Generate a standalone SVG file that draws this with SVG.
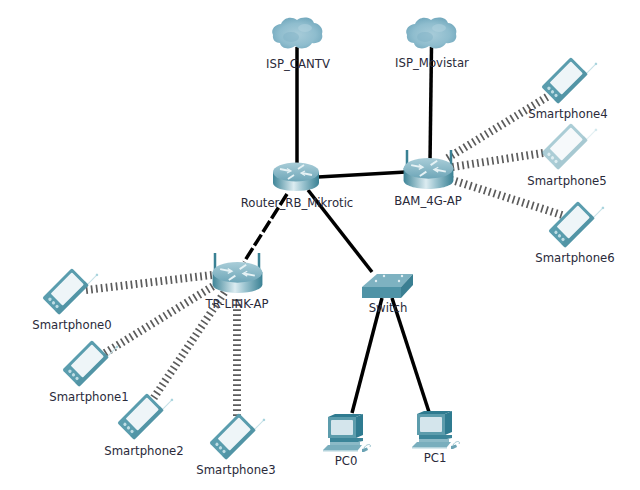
<svg xmlns="http://www.w3.org/2000/svg" width="640" height="490" viewBox="0 0 640 490">
<style>
text{font-family:"DejaVu Sans","Liberation Sans",sans-serif;font-size:11.7px;fill:#2a2a3a;text-anchor:middle}
.wire{stroke:#000;stroke-width:3.500;fill:none}
.air{stroke:#5c5c5c;stroke-width:8;stroke-dasharray:1.700 3.300;fill:none}
.ant{stroke:#3a8194;stroke-width:2.500}
</style>
<defs>
<radialGradient id="cg" cx=".5" cy=".55" r=".6"><stop offset="0" stop-color="#a8ccd9"/><stop offset=".6" stop-color="#8fbdce"/><stop offset="1" stop-color="#6fa6bb"/></radialGradient>
<linearGradient id="rg" x1="0" x2="1" y1="0" y2="0"><stop offset="0" stop-color="#3f8598"/><stop offset=".45" stop-color="#dcecf1"/><stop offset=".65" stop-color="#9cc4d0"/><stop offset="1" stop-color="#3a8194"/></linearGradient>
<linearGradient id="rt" x1="0" x2="0" y1="0" y2="1"><stop offset="0" stop-color="#a9cdd8"/><stop offset="1" stop-color="#6ea6b8"/></linearGradient>
<symbol id="cloud" overflow="visible" viewBox="-26 -16 52 32" width="52" height="32">
<path d="M-24 2C-27-4-21-9-16-9C-13-16-5-17 0-13C6-17 15-16 17-10C22-10 27-4 25 1C27 8 20 11 15 10C12 16 2 17-2 13C-7 17-16 16-17 10C-21 10-25 7-24 2Z" fill="url(#cg)"/>
<ellipse cx="-6" cy="4" rx="8" ry="5" fill="#7fb2c5" opacity=".5"/>
<ellipse cx="8" cy="-5" rx="7" ry="4" fill="#b4d3df" opacity=".5"/>
</symbol>
<symbol id="router" overflow="visible" viewBox="-24 -14 48 28" width="48" height="28">
<path d="M-23-4V7C-23 12-12 15 0 15S23 12 23 7V-4Z" fill="url(#rg)"/>
<ellipse cx="0" cy="-4" rx="23" ry="9.500" fill="url(#rt)"/>
<g stroke="#e6f2f5" stroke-width="1.800" fill="none">
<path d="M-16-7L-6-5"/><path d="M-9-7.500L-5-5L-9-3" stroke-width="1.200"/>
<path d="M16-1L6-3"/><path d="M9-.5L5-3L9-5" stroke-width="1.200"/>
<path d="M-8 3L-2-1"/><path d="M8-11L2-7"/>
</g>
</symbol>
<symbol id="phone" overflow="visible" viewBox="-35 -25 70 50" width="70" height="50">
<g transform="rotate(-45)">
<path d="M20 10.500H34" stroke="#c4e0e6" stroke-width="1"/>
<circle cx="34" cy="10.500" r="1.300" fill="#a8d4dd"/>
<rect x="-21" y="-12" width="42" height="24" rx="2" fill="#5a9dae"/>
<rect x="-21" y="6.500" width="42" height="5.500" fill="#4d8fa0" opacity=".6"/>
<rect x="-12" y="-9" width="30" height="17" rx="1" fill="#eef5f8"/>
<g fill="#bfdde4"><circle cx="-16.500" cy="-5.500" r="1.600"/><circle cx="-16.500" cy="-.5" r="1.600"/><circle cx="-16.500" cy="4.500" r="1.600"/></g>
</g>
</symbol>
<symbol id="pc" overflow="visible" viewBox="0 0 50 48" width="50" height="48">
<path d="M0 3L7 0H35L28 3Z" fill="#2f7b90"/>
<path d="M28 3L35 0V21L28 24Z" fill="#2f7b90"/>
<rect x="0" y="3" width="28" height="21" fill="#5c9cac"/>
<rect x="3" y="6" width="22" height="15" rx="1" fill="#d4e5ec"/>
<path d="M2 24H30L35 24V27L30 28H2Z" fill="#3c8599"/>
<path d="M2 28H32V31H2Z" fill="#8cbac7"/>
<path d="M-5 36L0 31H34L30 36Z" fill="#79aebd"/>
<path d="M-5 36H30V37.500H-5Z" fill="#b4d3dc"/>
<path d="M36 34C39 29 44 30 42 33" stroke="#9dc5d0" fill="none" stroke-width="1"/>
<path d="M34 35L39 33.500L40 36L36 38H34Z" fill="#6ba3b4"/>
</symbol>
</defs>
<rect width="640" height="490" fill="#fff"/>
<g id="connectors">
<path class="wire" d="M297 47V167"/>
<path class="wire" d="M431.500 47L430 162"/>
<path class="wire" d="M318 177L406 172"/>
<path class="wire" d="M287 194L244 262" stroke-dasharray="13 3"/>
<path class="wire" d="M308 190L372 272"/>
<path class="wire" d="M382 298L352 413"/>
<path class="wire" d="M392 298L429 412"/>
<path class="air" d="M86 290L212 275"/>
<path class="air" d="M105 353L215 285"/>
<path class="air" d="M151 402L226 290"/>
<path class="air" d="M237 416V296"/>
<path class="air" d="M547 97L446 159"/>
<path class="air" d="M543 153L452 167"/>
<path class="air" d="M562 215L452 180"/>
</g>
<g id="ISP_CANTV"><use href="#cloud" x="271" y="17"/><text x="298" y="68">ISP_CANTV</text></g>
<g id="ISP_Movistar"><use href="#cloud" x="405" y="17"/><text x="432" y="67">ISP_Movistar</text></g>
<g id="Router_RB_Mikrotic"><use href="#router" x="272" y="162"/><text x="297" y="207">Router_RB_Mikrotic</text></g>
<g id="BAM_4G-AP">
<path class="ant" d="M407 150V166M451 150V166"/>
<use href="#router" x="402.500" y="157.500" width="52" height="30.400"/><text x="428" y="205">BAM_4G-AP</text></g>
<g id="TR-LINK-AP">
<path class="ant" d="M215 253V270M259 253V270"/>
<use href="#router" x="211.500" y="261.500" width="52" height="30.400"/><text x="237" y="308">TR-LINK-AP</text></g>
<g id="Switch">
<path d="M362 287L377 274H413L401 287Z" fill="#7eb2c1"/>
<path d="M362 287H401V298H362Z" fill="#4f93a6"/>
<path d="M401 287L413 274V285L401 298Z" fill="#3a7f92"/>
<g fill="#e4f0f4"><circle cx="376" cy="281" r="1.200"/><circle cx="399" cy="281" r="1.200"/><circle cx="384" cy="276" r="1.200"/><circle cx="402" cy="276" r="1.200"/></g>
<text x="388" y="312">Switch</text></g>
<g id="PC0"><use href="#pc" x="328" y="414"/><text x="346" y="465">PC0</text></g>
<g id="PC1"><use href="#pc" x="417" y="411"/><text x="435" y="462">PC1</text></g>
<g id="Smartphone0"><use href="#phone" x="30.500" y="266.500"/><text x="72" y="329">Smartphone0</text></g>
<g id="Smartphone1"><use href="#phone" x="50.500" y="338.500"/><text x="89" y="401">Smartphone1</text></g>
<g id="Smartphone2"><use href="#phone" x="105.500" y="391.500"/><text x="144" y="455">Smartphone2</text></g>
<g id="Smartphone3"><use href="#phone" x="197.500" y="411.500"/><text x="236" y="474">Smartphone3</text></g>
<g id="Smartphone4"><use href="#phone" x="529.500" y="55.500"/><text x="568" y="118">Smartphone4</text></g>
<g id="Smartphone5"><use href="#phone" x="529.500" y="121.500" opacity=".5"/><text x="567" y="185">Smartphone5</text></g>
<g id="Smartphone6"><use href="#phone" x="536.500" y="199.500"/><text x="575" y="262">Smartphone6</text></g>
</svg>
